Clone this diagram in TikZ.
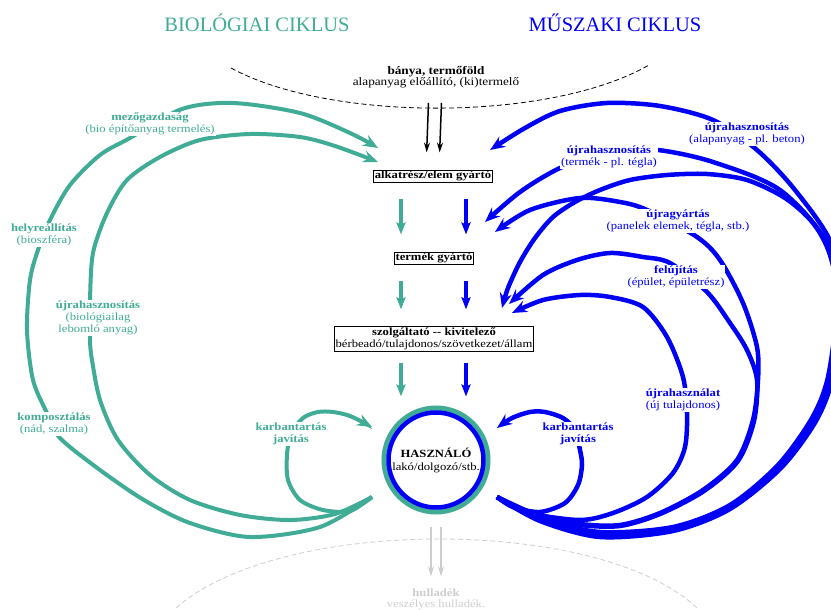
\documentclass[tikz,border=0pt]{standalone}
\usepackage{fontspec}
\setmainfont{Liberation Serif}[FakeStretch=1.15]
\newfontfamily\titlefont{Liberation Serif}
\usetikzlibrary{arrows.meta}
\definecolor{biogreen}{RGB}{64,172,150}
\definecolor{techblue}{RGB}{0,0,245}
\definecolor{wastegray}{RGB}{205,205,205}
\newcommand{\lblfont}{\fontsize{11}{12.3}\selectfont}

\begin{document}
\begin{tikzpicture}[x=1pt, y=-1pt,
    every node/.style={inner sep=1pt, align=center},
    stagebox/.style={draw=black, line width=0.9pt, fill=white, inner sep=1pt},
    glabel/.style={text=biogreen, fill=white, font=\lblfont},
    blabel/.style={text=techblue, fill=white, font=\lblfont},
    garc/.style={biogreen, line width=4pt, -{Stealth[length=15pt,width=12pt,inset=5pt]}},
    barc/.style={techblue, line width=4.5pt, -{Stealth[length=15pt,width=12pt,inset=5pt]}},
    gdown/.style={biogreen, line width=3.5pt, -{Stealth[length=12pt,width=9pt,inset=2pt]}, shorten <=17pt, shorten >=17pt},
    bdown/.style={techblue, line width=3.5pt, -{Stealth[length=12pt,width=9pt,inset=2pt]}, shorten <=17pt, shorten >=17pt},
    thinarr/.style={line width=1.5pt, -{Stealth[length=10pt,width=6pt]}}]

    \useasboundingbox (0,0) rectangle (831,610);

    % titles
    \node[text=biogreen, font=\titlefont\fontsize{20.5}{24}\selectfont, anchor=base] (biotitle) at (257,32) {BIOLÓGIAI CIKLUS};
    \node[text=techblue, font=\titlefont\fontsize{20.5}{24}\selectfont, anchor=base] (techtitle) at (615,32) {MŰSZAKI CIKLUS};

    % source and waste boundaries
    \draw[dash pattern=on 5pt off 3pt, line width=0.8pt] (231,68) .. controls (330,122) and (550,122) .. (649,65);
    \draw[wastegray, dash pattern=on 5pt off 3pt, line width=0.8pt] (176,608) .. controls (280,516) and (600,516) .. (697,608);

    % stages
    \node[font=\fontsize{11.5}{11}\selectfont] (src) at (436,77) {\textbf{bánya, termőföld}\\alapanyag előállító, (ki)termelő};
    \node[stagebox, font=\lblfont\bfseries] (alk) at (433,176) {alkatrész/elem gyártó};
    \node[stagebox, font=\lblfont\bfseries] (term) at (434,258) {termék gyártó};
    \node[stagebox, font=\lblfont] (szolg) at (434,339) {\textbf{szolgáltató -{}- kivitelező}\\bérbeadó/tulajdonos/szövetkezet/állam};
    \node[circle, draw=biogreen, line width=5pt, minimum size=104pt, font=\fontsize{11}{13}\selectfont] (user) at (436,460) {\textbf{HASZNÁLÓ}\\lakó/dolgozó/stb.};
    \draw[techblue, line width=4.5pt] (user.center) circle[radius=47.5];
    \node[text=wastegray, font=\fontsize{11}{11}\selectfont] (waste) at (436,599) {\textbf{hulladék}\\veszélyes hulladék.};

    % straight flow
    \coordinate (gcol) at (401,0);
    \coordinate (bcol) at (466,0);
    \draw[thinarr, shorten <=14pt, shorten >=17pt] ([xshift=-7pt]src.south) -- ([xshift=-7pt]alk.north);
    \draw[thinarr, shorten <=14pt, shorten >=17pt] ([xshift=6pt]src.south) -- ([xshift=6pt]alk.north);
    \draw[gdown] (alk.south -| gcol) -- (term.north -| gcol);
    \draw[gdown] (term.south -| gcol) -- (szolg.north -| gcol);
    \draw[gdown, shorten <=11pt, shorten >=9pt] (szolg.south -| gcol) -- (user.north -| gcol);
    \draw[bdown] (alk.south -| bcol) -- (term.north -| bcol);
    \draw[bdown] (term.south -| bcol) -- (szolg.north -| bcol);
    \draw[bdown, shorten <=11pt, shorten >=9pt] (szolg.south -| bcol) -- (user.north -| bcol);
    \draw[wastegray, thinarr, shorten <=12pt, shorten >=11pt] ([xshift=-5pt]user.south) -- ([xshift=-5pt]waste.north);
    \draw[wastegray, thinarr, shorten <=12pt, shorten >=11pt] ([xshift=5pt]user.south) -- ([xshift=5pt]waste.north);

    % loop ends
    \coordinate (gstart) at (372,497);
    \coordinate (bstart) at (497,497);
    \coordinate (galkA) at (378,148);
    \coordinate (galkB) at (378,162);
    \coordinate (guser) at (372,427);
    \coordinate (balk) at (490,150);
    \coordinate (btermA) at (485,222);
    \coordinate (btermB) at (495,232);
    \coordinate (bszolgA) at (502,308);
    \coordinate (bszolgB) at (509,304);
    \coordinate (bszolgC) at (512,313);
    \coordinate (buser) at (497,428);

    % biological loops
    \draw[garc] plot[smooth] coordinates {(gstart) (320,527) (250,537) (190,523) (144,500) (100,470) (60,438) (47,413) (33,380) (27,330) (30,280) (38,250) (50,220) (70,185) (100,155) (130,138) (182,109) (233,103) (300,113) (350,133) (galkA)};
    \draw[garc] plot[smooth] coordinates {(gstart) (335,514) (290,520) (240,515) (190,500) (150,475) (118,440) (100,400) (92,360) (90,340) (90,300) (93,253) (107,213) (127,180) (160,157) (200,140) (250,134) (300,137) (335,146) (galkB)};
    \draw[garc] plot[smooth] coordinates {(gstart) (350,511) (323,510) (300,500) (288,480) (287,455) (291,434) (303,418) (318,412) (333,412) (350,416) (guser)};

    % technical loops
    \draw[barc] plot[smooth] coordinates {(bstart) (540,520) (600,535) (673,530) (730,508) (780,467) (815,420) (831,377) (840,310) (832,245) (795,190) (757,150) (713,120) (660,106) (607,103) (560,111) (525,128) (balk)};
    \draw[barc] plot[smooth] coordinates {(bstart) (540,518) (600,532) (673,527) (730,505) (778,465) (812,418) (828,377) (836,310) (828,245) (780,190) (713,162) (658,150) (610,150) (560,168) (520,192) (btermA)};
    \draw[barc] plot[smooth] coordinates {(bstart) (540,521) (600,537) (673,531) (730,509) (781,468) (816,421) (833,377) (841,312) (830,255) (813,223) (785,198) (747,180) (707,174) (667,175) (630,180) (600,190) (575,202) (553,217) (535,238) (520,262) (508,288) (bszolgA)};
    \draw[barc] plot[smooth] coordinates {(bstart) (540,516) (580,524) (620,525) (660,513) (703,490) (737,460) (753,420) (758,380) (757,347) (743,303) (720,260) (697,237) (647,210) (620,202) (580,198) (530,210) (btermB)};
    \draw[barc] plot[smooth] coordinates {(bstart) (540,517) (580,525) (620,526) (660,514) (704,491) (738,461) (754,421) (757,380) (747,350) (730,323) (707,292) (670,263) (643,257) (610,253) (577,260) (543,275) (bszolgB)};
    \draw[barc] plot[smooth] coordinates {(bstart) (530,513) (580,520) (613,513) (647,497) (673,473) (685,447) (687,413) (683,377) (667,337) (643,307) (610,297) (580,295) (543,300) (bszolgC)};
    \draw[barc] plot[smooth] coordinates {(bstart) (513,507) (540,512) (565,503) (578,485) (582,465) (580,450) (575,430) (563,418) (545,412) (530,412) (512,418) (buser)};

    % loop labels
    \node[glabel] (agri) at (150,124) {\textbf{mezőgazdaság}\\(bio építőanyag termelés)};
    \node[glabel] (restore) at (44,235) {\textbf{helyreállítás}\\(bioszféra)};
    \node[glabel] (biorecycle) at (98,318) {\textbf{újrahasznosítás}\\(biológiailag\\lebomló anyag)};
    \node[glabel] (compost) at (54,424) {\textbf{komposztálás}\\(nád, szalma)};
    \node[glabel] (gmaint) at (291,434) {\textbf{karbantartás}\\\textbf{javítás}};
    \node[blabel] (rawrecycle) at (747,134) {\textbf{újrahasznosítás}\\(alapanyag - pl. beton)};
    \node[blabel] (prodrecycle) at (609,157) {\textbf{újrahasznosítás}\\(termék - pl. tégla)};
    \node[blabel] (remanuf) at (678,221) {\textbf{újragyártás}\\(panelek elemek, tégla, stb.)};
    \node[blabel] (renovate) at (676,277) {\textbf{felújítás}\\(épület, épületrész)};
    \node[blabel] (reuse) at (683,400) {\textbf{újrahasználat}\\(új tulajdonos)};
    \node[blabel] (bmaint) at (578,434) {\textbf{karbantartás}\\\textbf{javítás}};
\end{tikzpicture}
\end{document}
